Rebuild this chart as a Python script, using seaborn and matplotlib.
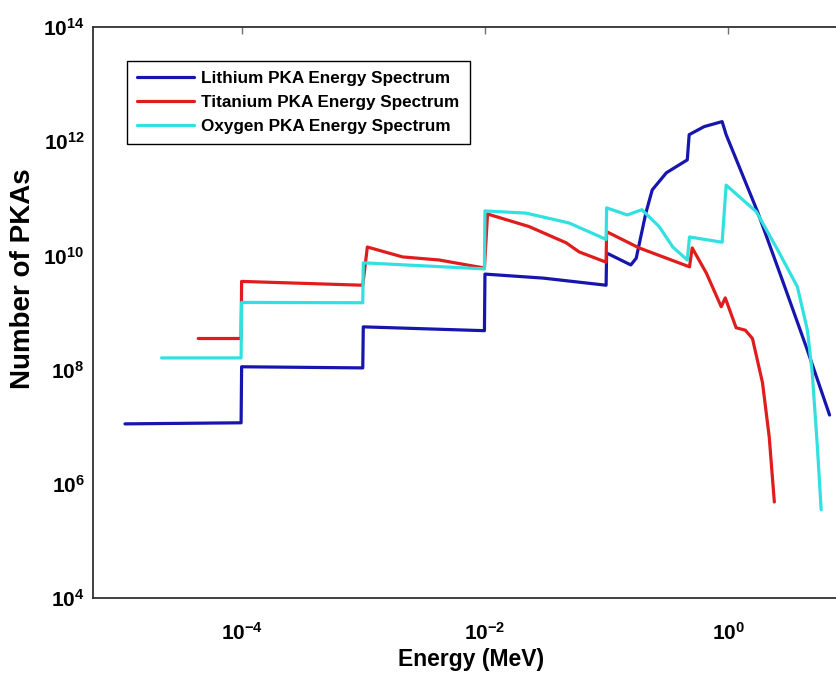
import numpy as np
import pandas as pd
import matplotlib
matplotlib.use("Agg")
import matplotlib.pyplot as plt
import seaborn as sns
from matplotlib.ticker import FuncFormatter, NullLocator

# ========== DATA ==========
series_names = ["Lithium PKA Energy Spectrum",
                "Titanium PKA Energy Spectrum",
                "Oxygen PKA Energy Spectrum"]

li_energy = [1.1e-5, 9.9e-5, 1.0e-4, 9.9e-4, 1.0e-3, 9.9e-3, 1.0e-2, 0.03, 0.099, 0.1,
             0.158, 0.175, 0.21, 0.237, 0.31, 0.46, 0.477, 0.634, 0.89, 0.96,
             1.74, 2.78, 4.37, 6.8]
li_count = [1.12e7, 1.17e7, 1.12e8, 1.07e8, 5.6e8, 4.8e8, 4.7e9, 4.0e9, 3.0e9, 1.1e10,
            6.8e9, 8.9e9, 5.5e10, 1.4e11, 2.8e11, 4.7e11, 1.3e12, 1.8e12, 2.2e12, 1.3e12,
            5.8e10, 3.7e9, 2.5e8, 1.6e7]

ti_energy = [4.4e-5, 9.9e-5, 1.0e-4, 9.9e-4, 1.08e-3, 2.1e-3, 4.2e-3, 9.9e-3, 1.05e-2, 0.023,
             0.0465, 0.0594, 0.099, 0.1, 0.185, 0.48, 0.505, 0.66, 0.875, 0.944,
             1.16, 1.38, 1.58, 1.91, 2.17, 2.39]
ti_count = [3.5e8, 3.5e8, 3.5e9, 3.0e9, 1.4e10, 9.4e9, 8.3e9, 6.0e9, 5.3e10, 3.2e10,
            1.66e10, 1.15e10, 7.6e9, 2.6e10, 1.35e10, 6.3e9, 1.35e10, 4.9e9, 1.26e9, 1.8e9,
            5.4e8, 4.9e8, 3.5e8, 5.9e7, 6.6e6, 4.8e5]

ox_energy = [2.2e-5, 9.9e-5, 1.0e-4, 9.9e-4, 1.0e-3, 9.9e-3, 1.0e-2, 0.0217, 0.049, 0.076,
             0.099, 0.1, 0.148, 0.195, 0.27, 0.35, 0.46, 0.48, 0.89, 0.96,
             1.70, 2.63, 3.7, 4.47, 4.9, 5.4, 5.8]
ox_count = [1.6e8, 1.6e8, 1.5e9, 1.48e9, 7.4e9, 5.8e9, 6.0e10, 5.5e10, 3.7e10, 2.45e10,
            1.9e10, 6.8e10, 5.1e10, 6.3e10, 3.2e10, 1.4e10, 8.3e9, 2.1e10, 1.7e10, 1.7e11,
            5.8e10, 1.1e10, 2.8e9, 4.9e8, 8.7e7, 4.4e6, 3.5e5]

x_ticks = [1e-4, 1e-2, 1e0]
y_ticks = [1e4, 1e6, 1e8, 1e10, 1e12, 1e14]

# ========== STYLE ==========
sns.set_style("white")
plt.rcParams['font.family'] = ['Liberation Sans', 'DejaVu Sans']
plt.rcParams['font.weight'] = 'bold'
plt.rcParams['text.color'] = 'black'
plt.rcParams['axes.labelcolor'] = 'black'
plt.rcParams['mathtext.fontset'] = 'custom'
plt.rcParams['mathtext.bf'] = 'Liberation Sans:bold'
plt.rcParams['mathtext.rm'] = 'Liberation Sans:bold'

colors = {series_names[0]: "#1616ae", series_names[1]: "#e01c1c", series_names[2]: "#33e0e0"}

df = pd.concat([
    pd.DataFrame({"energy": li_energy, "count": li_count, "species": series_names[0]}),
    pd.DataFrame({"energy": ti_energy, "count": ti_count, "species": series_names[1]}),
    pd.DataFrame({"energy": ox_energy, "count": ox_count, "species": series_names[2]}),
], ignore_index=True)

# ========== PLOT ==========
fig = plt.figure(figsize=(8.36, 6.79), dpi=100)
# right edge of the box sits just past the picture, as in the cropped original
ax = fig.add_axes([0.1112, 0.1193, 0.9055, 0.841])

sns.lineplot(data=df, x="energy", y="count", hue="species", palette=colors,
             estimator=None, sort=False, linewidth=2.3, ax=ax)

ax.set_xscale('log')
ax.set_yscale('log')
ax.set_xlim(6e-6, 10)
ax.set_ylim(1e4, 1e14)
ax.set_xticks(x_ticks)
ax.set_yticks(y_ticks)
ax.xaxis.set_minor_locator(NullLocator())
ax.yaxis.set_minor_locator(NullLocator())
fmt = FuncFormatter(lambda v, p: r'$\mathbf{10^{%d}}$' % int(round(np.log10(v))))
ax.xaxis.set_major_formatter(fmt)
ax.yaxis.set_major_formatter(fmt)
ax.tick_params(direction='in', length=5, width=1, color='#707070', labelcolor='black',
               top=True, right=True, labelsize=15)
ax.tick_params(axis='x', pad=17)
ax.tick_params(axis='y', pad=6)

for s in ax.spines.values():
    s.set_color('#303030')
    s.set_linewidth(1.3)

ax.set_xlabel("Energy (MeV)", fontsize=16.5, fontweight='bold', labelpad=3)
ax.set_ylabel("Number of PKAs", fontsize=20, fontweight='bold')
ax.yaxis.set_label_coords(-0.075, 0.56)

handles, labels = ax.get_legend_handles_labels()
leg = ax.legend(handles, labels, loc='upper left', bbox_to_anchor=(0.045, 0.94),
                borderaxespad=0, frameon=True, fancybox=False, framealpha=1,
                edgecolor='black', handlelength=3.3, handletextpad=0.45,
                labelspacing=0.5, borderpad=0.6,
                prop={'weight': 'bold', 'size': 12.3})
leg.get_frame().set_linewidth(1.0)
for t in leg.get_texts():
    t.set_color('black')

fig.savefig("out.png", dpi=100)
